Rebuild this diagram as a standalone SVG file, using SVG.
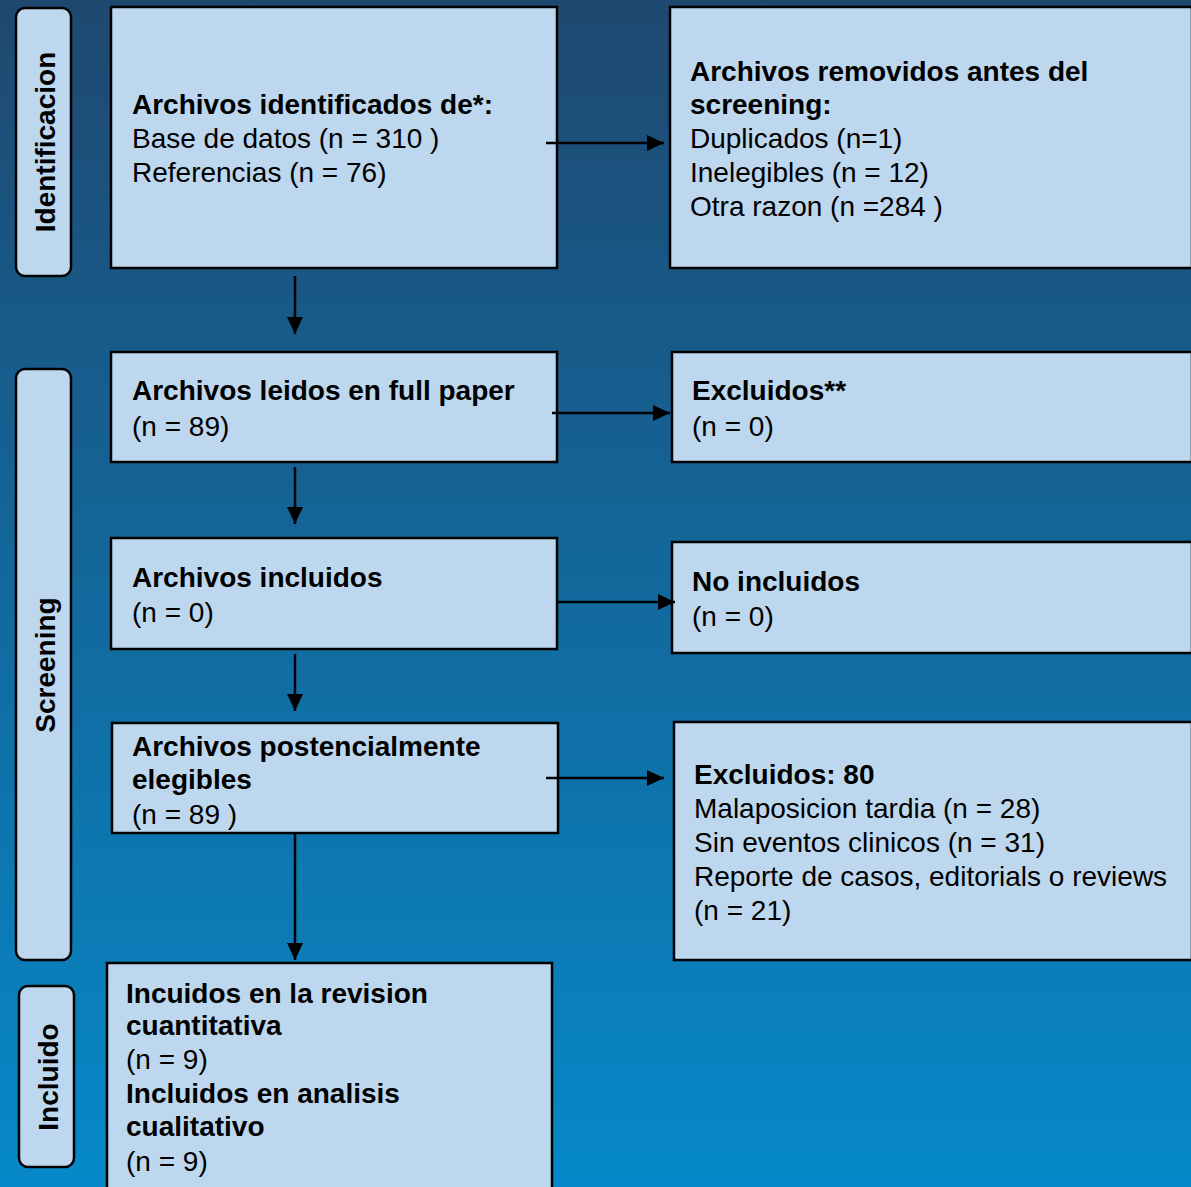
<svg xmlns="http://www.w3.org/2000/svg" width="1191" height="1187" viewBox="0 0 1191 1187">
<defs>
<linearGradient id="bg" x1="0" y1="0" x2="0" y2="1">
<stop offset="0" stop-color="#1F4870"/>
<stop offset="1" stop-color="#0689C9"/>
</linearGradient>
<marker id="ah" markerWidth="18" markerHeight="16" refX="17" refY="8" orient="auto" markerUnits="userSpaceOnUse">
<path d="M0,0 L17,8 L0,16 Z" fill="#000"/>
</marker>
<style>
.box{fill:#BDD7EE;stroke:#000;stroke-width:2.5}
.lbl{fill:#BDD7EE;stroke:#000;stroke-width:2.5}
text{font-family:"Liberation Sans",Arial,sans-serif;font-size:28px;fill:#000}
.b{font-weight:bold}
.side{font-weight:bold;text-anchor:middle}
.c{stroke:#000;stroke-width:2.5;fill:none;marker-end:url(#ah)}
</style>
</defs>
<rect x="0" y="0" width="1191" height="1187" fill="url(#bg)"/>

<g id="label-identificacion">
<rect class="lbl" x="16" y="8" width="55" height="268" rx="9"/>
<text class="side" transform="translate(55,142) rotate(-90)">Identificacion</text>
</g>
<g id="label-screening">
<rect class="lbl" x="16" y="369" width="55" height="591" rx="9"/>
<text class="side" transform="translate(55,665) rotate(-90)">Screening</text>
</g>
<g id="label-incluido">
<rect class="lbl" x="19" y="986" width="55" height="181" rx="9"/>
<text class="side" transform="translate(58,1077) rotate(-90)">Incluido</text>
</g>

<g id="n-identificados">
<rect class="box" x="111" y="7" width="446" height="261"/>
<text x="132" y="114" class="b">Archivos identificados de*:</text>
<text x="132" y="148">Base de datos (n = 310 )</text>
<text x="132" y="182">Referencias (n = 76)</text>
</g>
<g id="n-removidos">
<rect class="box" x="670" y="7" width="522" height="261"/>
<text x="690" y="81" class="b">Archivos removidos antes del</text>
<text x="690" y="114" class="b">screening:</text>
<text x="690" y="148">Duplicados (n=1)</text>
<text x="690" y="182">Inelegibles (n = 12)</text>
<text x="690" y="216">Otra razon (n =284 )</text>
</g>
<g id="n-leidos">
<rect class="box" x="111" y="352" width="446" height="110"/>
<text x="132" y="400" class="b">Archivos leidos en full paper</text>
<text x="132" y="436">(n = 89)</text>
</g>
<g id="n-excluidos1">
<rect class="box" x="672" y="352" width="520" height="110"/>
<text x="692" y="400" class="b">Excluidos**</text>
<text x="692" y="436">(n = 0)</text>
</g>
<g id="n-incluidos">
<rect class="box" x="111" y="538" width="446" height="111"/>
<text x="132" y="587" class="b">Archivos incluidos</text>
<text x="132" y="622">(n = 0)</text>
</g>
<g id="n-noincluidos">
<rect class="box" x="672" y="542" width="520" height="111"/>
<text x="692" y="591" class="b">No incluidos</text>
<text x="692" y="626">(n = 0)</text>
</g>
<g id="n-elegibles">
<rect class="box" x="112" y="723" width="446" height="110"/>
<text x="132" y="756" class="b">Archivos postencialmente</text>
<text x="132" y="789" class="b">elegibles</text>
<text x="132" y="824">(n = 89 )</text>
</g>
<g id="n-excluidos80">
<rect class="box" x="674" y="722" width="518" height="238"/>
<text x="694" y="784" class="b">Excluidos: 80</text>
<text x="694" y="818">Malaposicion tardia (n = 28)</text>
<text x="694" y="852">Sin eventos clinicos (n = 31)</text>
<text x="694" y="886">Reporte de casos, editorials o reviews</text>
<text x="694" y="920">(n = 21)</text>
</g>
<g id="n-final">
<rect class="box" x="107" y="963" width="445" height="230"/>
<text x="126" y="1003" class="b">Incuidos en la revision</text>
<text x="126" y="1035" class="b">cuantitativa</text>
<text x="126" y="1069">(n = 9)</text>
<text x="126" y="1103" class="b">Incluidos en analisis</text>
<text x="126" y="1136" class="b">cualitativo</text>
<text x="126" y="1171">(n = 9)</text>
</g>

<g id="connectors">
<line class="c" x1="546" y1="143" x2="664" y2="143"/>
<line class="c" x1="295" y1="276" x2="295" y2="334"/>
<line class="c" x1="552" y1="413" x2="670" y2="413"/>
<line class="c" x1="295" y1="467" x2="295" y2="524"/>
<line class="c" x1="557" y1="602" x2="675" y2="602"/>
<line class="c" x1="295" y1="654" x2="295" y2="711"/>
<line class="c" x1="546" y1="778" x2="664" y2="778"/>
<line class="c" x1="295" y1="833" x2="295" y2="960"/>
</g>
</svg>
